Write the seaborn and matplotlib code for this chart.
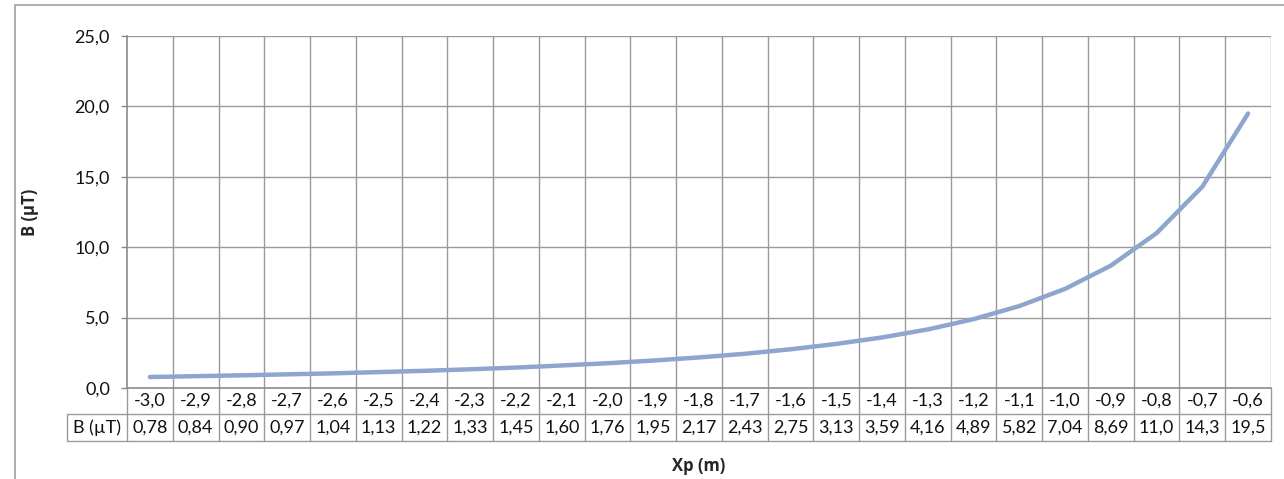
import matplotlib
matplotlib.use('Agg')
import matplotlib.pyplot as plt
import matplotlib.transforms as mtransforms
from matplotlib.patches import Rectangle
import seaborn as sns
import pandas as pd
import numpy as np

xp_labels = ['-3,0', '-2,9', '-2,8', '-2,7', '-2,6', '-2,5', '-2,4', '-2,3', '-2,2',
             '-2,1', '-2,0', '-1,9', '-1,8', '-1,7', '-1,6', '-1,5', '-1,4', '-1,3',
             '-1,2', '-1,1', '-1,0', '-0,9', '-0,8', '-0,7', '-0,6']
b_values = [0.78, 0.84, 0.90, 0.97, 1.04, 1.13, 1.22, 1.33, 1.45, 1.60, 1.76, 1.95,
            2.17, 2.43, 2.75, 3.13, 3.59, 4.16, 4.89, 5.82, 7.04, 8.69, 11.0, 14.3, 19.5]
b_labels = ['0,78', '0,84', '0,90', '0,97', '1,04', '1,13', '1,22', '1,33', '1,45',
            '1,60', '1,76', '1,95', '2,17', '2,43', '2,75', '3,13', '3,59', '4,16',
            '4,89', '5,82', '7,04', '8,69', '11,0', '14,3', '19,5']
y_ticks = [0, 5, 10, 15, 20, 25]

sns.set_style('white')
plt.rcParams['font.family'] = ['Lato', 'DejaVu Sans']
FS = 13

W, H = 1284, 479
fig = plt.figure(figsize=(W / 100, H / 100), dpi=100)

# plot area in pixels
left, right, top, bottom = 127, 1271, 36, 388
ax = fig.add_axes([left / W, 1 - bottom / H, (right - left) / W, (bottom - top) / H])

df = pd.DataFrame({'idx': np.arange(len(b_values)), 'B': b_values})
sns.lineplot(data=df, x='idx', y='B', ax=ax, color='#8EA6CE', linewidth=3.2)

n = len(b_values)
ax.set_xlim(-0.5, n - 0.5)
ax.set_ylim(0, 25)
ax.set_yticks(y_ticks)
ax.set_yticklabels([f'{t:.1f}'.replace('.', ',') for t in y_ticks], fontsize=FS, color='#111111')
ax.set_xticks([])
ax.set_xlabel('')
ax.set_ylabel('')

grid_c = '#9a9a9a'
for t in y_ticks[1:]:
    ax.axhline(t, color=grid_c, linewidth=1.0, zorder=0)
for k in range(n):
    ax.axvline(k + 0.5, color=grid_c, linewidth=1.0, zorder=0)

for s in ['top', 'right']:
    ax.spines[s].set_visible(False)
ax.spines['left'].set_color('#8a8a8a')
ax.spines['left'].set_linewidth(1.2)
ax.spines['bottom'].set_color('#8a8a8a')
ax.spines['bottom'].set_linewidth(1.2)
ax.tick_params(axis='y', length=4.3, width=1, color='#8a8a8a', pad=8, direction='out', left=True)

# data table below the axis
trans = mtransforms.blended_transform_factory(ax.transData, fig.transFigure)
def fy(py):
    return 1 - py / H

r1_top, r1_bot, r2_bot = 388, 414, 441
label_left_x = -0.5 - (127 - 67) / ((right - left) / n)

line_kw = dict(color=grid_c, linewidth=1.0, transform=trans, clip_on=False)
ax.plot([-0.5, n - 0.5], [fy(r1_bot)] * 2, **line_kw)
ax.plot([label_left_x, n - 0.5], [fy(r2_bot)] * 2, **line_kw)
ax.plot([label_left_x, -0.5], [fy(r1_bot)] * 2, **line_kw)
ax.plot([label_left_x, label_left_x], [fy(r1_bot), fy(r2_bot)], **line_kw)
ax.plot([-0.5, -0.5], [fy(r1_top), fy(r2_bot)], **line_kw)
for k in range(n):
    ax.plot([k + 0.5, k + 0.5], [fy(r1_top), fy(r2_bot)], **line_kw)

for k in range(n):
    ax.text(k, fy((r1_top + r1_bot) / 2), xp_labels[k], transform=trans,
            ha='center', va='center', fontsize=FS, color='#111111')
    ax.text(k, fy((r1_bot + r2_bot) / 2), b_labels[k], transform=trans,
            ha='center', va='center', fontsize=FS, color='#111111')
ax.text((label_left_x - 0.5) / 2, fy((r1_bot + r2_bot) / 2), 'B (µT)', transform=trans,
        ha='center', va='center', fontsize=FS, color='#111111')

# axis titles (bold face from a family that ships a bold weight)
bold_fam = ['Open Sans', 'Liberation Sans', 'DejaVu Sans']
fig.text(699 / W, fy(466), 'Xp (m)', ha='center', va='center', fontsize=12,
         fontweight='bold', family=bold_fam)
fig.text(30 / W, fy(212), 'B (µT)', ha='center', va='center', rotation=90,
         fontsize=12, fontweight='bold', family=bold_fam)

# chart outer frame (cropped at right and bottom)
fig.patches.append(Rectangle((15 / W, -0.1), 1.2, fy(5) + 0.1, transform=fig.transFigure,
                             fill=False, edgecolor='#a0a0a0', linewidth=1.2))

fig.savefig('out.png', dpi=100)
